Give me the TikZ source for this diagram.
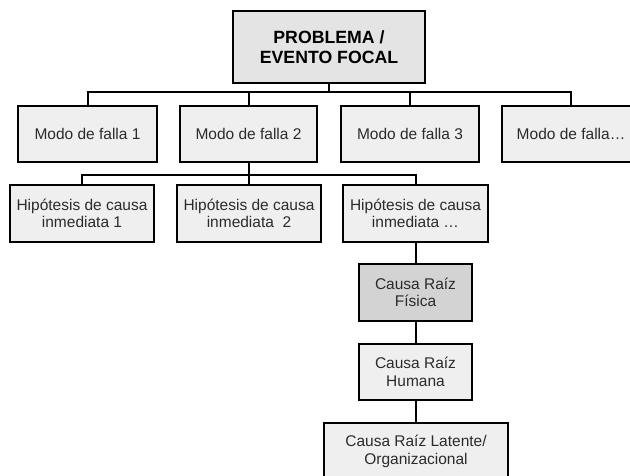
\documentclass[tikz,border=0pt]{standalone}
\usepackage{fontspec}
\setmainfont{Liberation Sans}
\begin{document}
\begin{tikzpicture}[x=1pt,y=-1pt,
  box/.style={draw=black, line width=2pt, fill=boxfill, rectangle, align=center, inner sep=0pt,
    text=textgray, font=\fontsize{15.5}{17.5}\selectfont, minimum height=56pt},
  conn/.style={draw=black, line width=2pt}]
\definecolor{boxfill}{HTML}{EFEFEF}
\definecolor{topfill}{HTML}{E4E4E4}
\definecolor{darkfill}{HTML}{D3D3D3}
\definecolor{textgray}{HTML}{2B2B2B}
\useasboundingbox (0,0) rectangle (630,476);
\fill[white] (0,0) rectangle (630,476);
\node[box, fill=topfill, text=black, minimum width=192pt, minimum height=72pt,
  font=\fontsize{17.7}{19.5}\selectfont\bfseries] (top) at (329,47) {PROBLEMA /\\EVENTO FOCAL};
\node[box, minimum width=139pt] (m1) at (87.5,134) {Modo de falla 1};
\node[box, minimum width=137pt] (m2) at (248.5,134) {Modo de falla 2};
\node[box, minimum width=138pt] (m3) at (410,134) {Modo de falla 3};
\node[box, minimum width=138pt] (m4) at (571,134) {Modo de falla\ldots};
\node[box, minimum width=144pt, minimum height=57pt] (h1) at (82,213.5) {Hipótesis de causa\\inmediata 1};
\node[box, minimum width=144pt, minimum height=57pt] (h2) at (249,213.5) {Hipótesis de causa\\inmediata\ \ 2};
\node[box, minimum width=145pt, minimum height=57pt] (h3) at (415.5,213.5) {Hipótesis de causa\\inmediata \ldots};
\node[box, fill=darkfill, minimum width=113pt, minimum height=57pt] (f) at (415.5,292.5) {Causa Raíz\\Física};
\node[box, minimum width=113pt] (hu) at (415.5,372) {Causa Raíz\\Humana};
\node[box, minimum width=184pt, minimum height=57pt] (la) at (416,451.5) {Causa Raíz Latente/\\Organizacional};
\coordinate (b1) at (0,92);
\coordinate (b2) at (0,175);
\draw[conn] (top.south) -- (top.south |- b1);
\draw[conn] (m1.north) -- (m1.north |- b1) -- (m4.north |- b1) -- (m4.north);
\draw[conn] (m2.north) -- (m2.north |- b1);
\draw[conn] (m3.north) -- (m3.north |- b1);
\draw[conn] (h1.north) -- (h1.north |- b2) -- (h3.north |- b2) -- (h3.north);
\draw[conn] (m2.south) -- (m2.south |- h2.north);
\draw[conn] (h3.south) -- (f.north);
\draw[conn] (f.south) -- (hu.north);
\draw[conn] (hu.south) -- (hu.south |- la.north);
\end{tikzpicture}
\end{document}
